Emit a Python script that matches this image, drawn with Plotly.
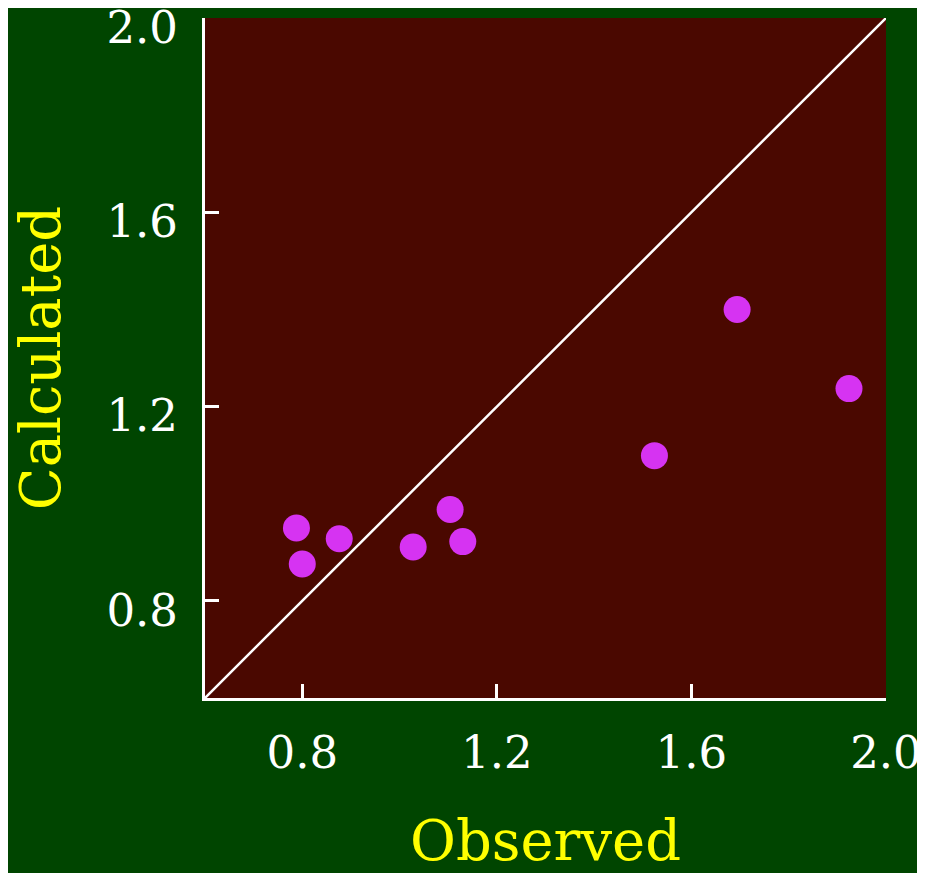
import plotly.graph_objects as go

# observed vs calculated values
observed = [0.788, 0.800, 0.876, 1.028, 1.104, 1.130, 1.524, 1.694, 1.924]
calculated = [0.950, 0.876, 0.928, 0.911, 0.988, 0.922, 1.099, 1.400, 1.237]

# 1:1 reference line
diag = [0.6, 2.0]

tick_vals = [0.8, 1.2, 1.6, 2.0]
tick_text = ["0.8", "1.2", "1.6", "2.0"]

font_family = "DejaVu Serif"

fig = go.Figure()

fig.add_trace(go.Scatter(
    x=diag, y=diag, mode="lines",
    line=dict(color="white", width=2.5),
    hoverinfo="skip", showlegend=False,
))

fig.add_trace(go.Scatter(
    x=observed, y=calculated, mode="markers",
    marker=dict(color="#d633f2", size=27, line=dict(width=0)),
    showlegend=False,
))

axis_style = dict(
    range=[0.6, 2.0001],
    tickvals=tick_vals,
    ticktext=tick_text,
    ticks="inside",
    ticklen=14,
    tickwidth=3,
    tickcolor="white",
    showline=True,
    linecolor="white",
    linewidth=3,
    showgrid=False,
    zeroline=False,
    ticklabeloverflow="allow",
    tickfont=dict(family=font_family, size=45, color="white"),
)

fig.update_xaxes(
    **axis_style,
    ticklabelstandoff=13,
    title=dict(text="Observed", font=dict(family=font_family, size=56, color="yellow"), standoff=54),
)
fig.update_yaxes(
    **axis_style,
    ticklabelstandoff=15,
    ticklabelshift=9,
    title=dict(text="Calculated", font=dict(family=font_family, size=56, color="yellow"), standoff=29),
)

# the page adds an 8px body margin, so size the figure to land the plot where the reference has it
fig.update_layout(
    width=917, height=865,
    margin=dict(l=197, r=39, t=10, b=175, autoexpand=False),
    paper_bgcolor="#004500",
    plot_bgcolor="#4a0800",
)

fig.write_html("out.html")
